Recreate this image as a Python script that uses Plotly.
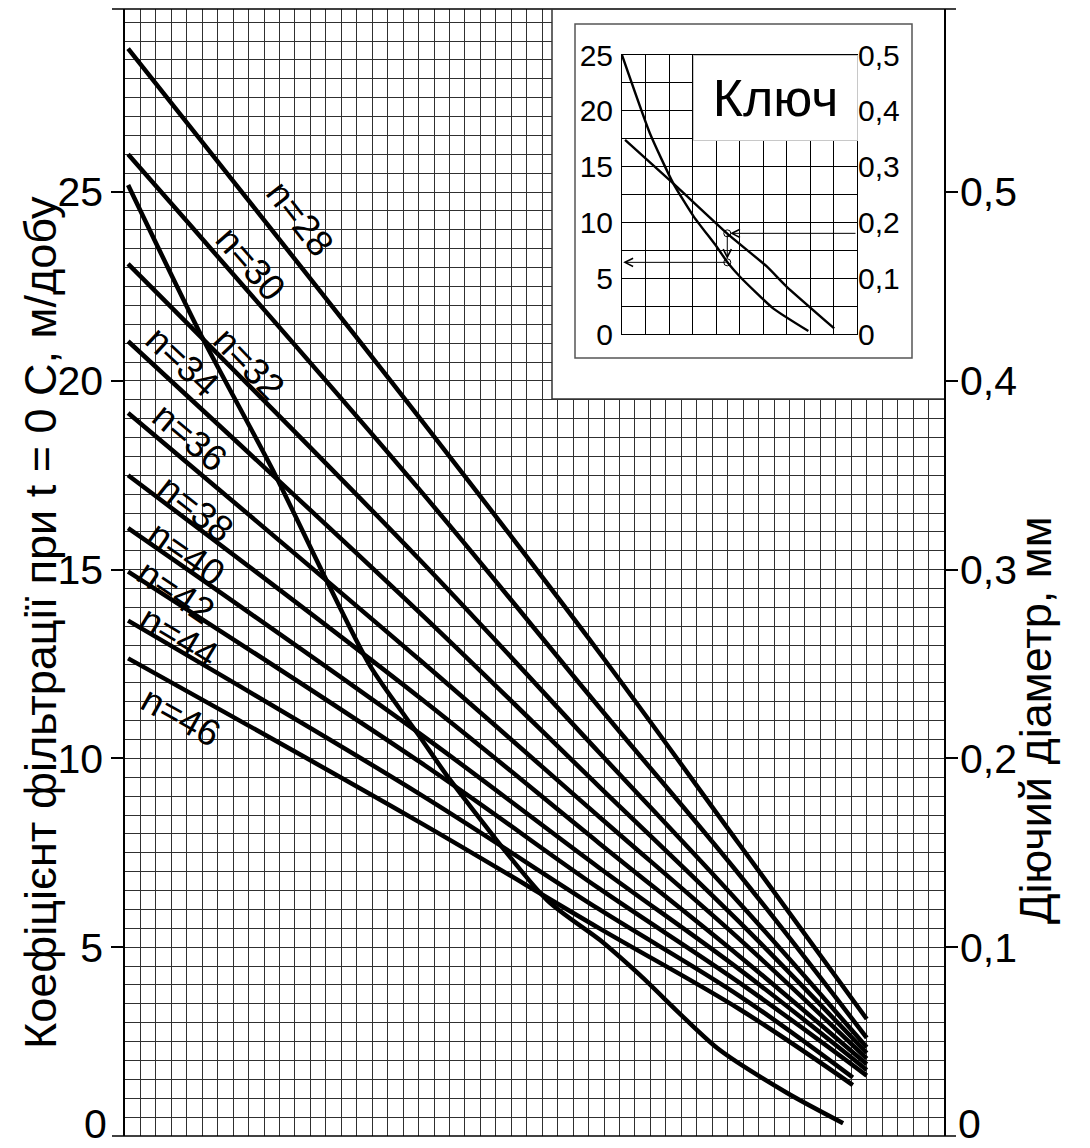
import plotly.graph_objects as go

# ---------------------------------------------------------------------------
# Nomogram: filtration coefficient K (m/day, left) vs effective diameter
# d (mm, right) for soils of different porosity n.
# ---------------------------------------------------------------------------

X_MAX = 53          # number of grid columns along the abscissa
K_MAX = 29.85       # top of the K scale, m/day
MM_PER_K = 1 / 50   # right scale (mm) is the left scale divided by 50

# tick values of both scales
k_ticks = [0, 5, 10, 15, 20, 25]
d_ticks = [0, 0.1, 0.2, 0.3, 0.4, 0.5]

# abscissa (grid columns) at which each porosity line was sampled
n_x_long = [0.2, 19.1, 30.7, 39.8, 48.0]
n_x_short = [0.2, 19.1, 30.7, 39.8, 47.1]

# effective diameter, mm, along each porosity line
n_labels = ["n=28", "n=30", "n=32", "n=34", "n=36",
            "n=38", "n=40", "n=42", "n=44", "n=46"]
d_n28 = [0.576, 0.380, 0.256, 0.154, 0.062]
d_n30 = [0.520, 0.342, 0.227, 0.138, 0.052]
d_n32 = [0.462, 0.305, 0.203, 0.123, 0.047]
d_n34 = [0.421, 0.277, 0.185, 0.113, 0.044]
d_n36 = [0.383, 0.252, 0.169, 0.104, 0.041]
d_n38 = [0.350, 0.232, 0.155, 0.095, 0.038]
d_n40 = [0.322, 0.213, 0.142, 0.088, 0.035]
d_n42 = [0.299, 0.198, 0.131, 0.081, 0.032]
d_n44 = [0.273, 0.181, 0.120, 0.074, 0.031]
d_n46 = [0.253, 0.166, 0.110, 0.067, 0.027]

# K-curve, m/day
curve_x = [0.2, 4.85, 9.7, 12.75, 15.86, 19.09, 21.04, 27.31,
           30.74, 33.33, 38.32, 42.85, 46.47]
curve_k = [25.19, 21.27, 17.53, 14.96, 12.45, 10.57, 9.43, 6.25,
           5.19, 4.26, 2.33, 1.14, 0.34]

# label anchors (column, K) and rotation of the porosity labels
label_x = [11.3, 8.1, 8.0, 3.7, 4.2, 4.53, 3.95, 3.24, 3.43, 3.56]
label_k = [24.29, 23.11, 20.45, 20.52, 18.5, 16.62, 15.44, 14.41, 13.22, 11.10]
label_angle = [52, 49, 46, 43, 40, 38, 35, 34, 31, 29]

# ---- key (inset) -----------------------------------------------------------
key_curve_x = [0.0, 1.19, 2.18, 3.06, 4.03, 4.52, 5.02, 6.43, 7.93]
key_curve_k = [25.0, 17.97, 13.5, 10.5, 7.82, 6.33, 5.13, 2.3, 0.27]
key_line_x = [0.13, 2.18, 4.48, 6.16, 7.0, 9.03]
key_line_d = [0.348, 0.270, 0.180, 0.121, 0.085, 0.010]
key_x_read = 4.48
key_d_read = 0.1804  # example diameter, mm
key_k_read = 6.42    # resulting K, m/day

FONT = "Liberation Sans, Arial, sans-serif"
GRID = "#303030"

# plot area in pixels inside the 1090 x 1148 page
W, H = 1090, 1148
L, R, T, B = 125, 944, 9, 1136
PW, PH = R - L, B - T


def px_x(p):
    return (p - L) / PW


def px_y(p):
    return (B - p) / PH


fig = go.Figure()

series = [d_n28, d_n30, d_n32, d_n34, d_n36, d_n38, d_n40, d_n42, d_n44, d_n46]
for i, d in enumerate(series):
    xs = n_x_short if i >= 8 else n_x_long
    fig.add_trace(go.Scatter(
        x=xs, y=d, mode="lines", yaxis="y2", name=n_labels[i],
        line=dict(color="black", width=4.5, shape="spline", smoothing=1.0),
        hoverinfo="skip"))

fig.add_trace(go.Scatter(
    x=curve_x, y=curve_k, mode="lines", name="K",
    line=dict(color="black", width=4.5, shape="spline", smoothing=0.7),
    hoverinfo="skip"))

# white panel holding the key (its own subplot so its background hides the grid)
fig.add_trace(go.Scatter(x=[None], y=[None], xaxis="x3", yaxis="y3",
                         hoverinfo="skip"))

fig.add_trace(go.Scatter(
    x=key_curve_x, y=key_curve_k, xaxis="x4", yaxis="y4", mode="lines",
    line=dict(color="black", width=2.4, shape="spline", smoothing=0.5),
    hoverinfo="skip"))
fig.add_trace(go.Scatter(
    x=key_line_x, y=key_line_d, xaxis="x4", yaxis="y5", mode="lines",
    line=dict(color="black", width=2.4, shape="spline", smoothing=0.4),
    hoverinfo="skip"))
fig.add_trace(go.Scatter(
    x=[key_x_read, key_x_read], y=[key_d_read / MM_PER_K, key_k_read],
    xaxis="x4", yaxis="y4", mode="markers",
    marker=dict(symbol="circle-open", size=7, color="black", line=dict(width=1)),
    hoverinfo="skip"))

annotations = []
for i, txt in enumerate(n_labels):
    annotations.append(dict(
        x=label_x[i], y=label_k[i], xref="x", yref="y", text=txt,
        showarrow=False, textangle=label_angle[i],
        font=dict(family=FONT, size=37, color="black"),
        xanchor="center", yanchor="middle"))

# reading arrows of the key
arrow = dict(showarrow=True, arrowhead=5, arrowsize=1.6, arrowwidth=1,
             arrowcolor="black", text="", xref="x4", yref="y4",
             axref="x4", ayref="y4", standoff=0, startstandoff=0)
annotations.append(dict(arrow, x=key_x_read + 0.12, y=key_d_read / MM_PER_K,
                        ax=10, ay=key_d_read / MM_PER_K))
annotations.append(dict(arrow, x=key_x_read, y=key_k_read + 0.3,
                        ax=key_x_read, ay=key_d_read / MM_PER_K))
annotations.append(dict(arrow, x=0.05, y=key_k_read,
                        ax=key_x_read, ay=key_k_read))

annotations.append(dict(
    x=px_x(775), y=px_y(97.5), xref="paper", yref="paper", text="Ключ",
    showarrow=False, width=163, height=84, bgcolor="white",
    bordercolor="#c8c8c8", borderwidth=1, borderpad=0,
    xanchor="center", yanchor="middle",
    font=dict(family=FONT, size=52, color="black")))

annotations.append(dict(
    x=px_x(40), y=px_y(623), xref="paper", yref="paper",
    text="Коефіцієнт фільтрації при t = 0 C, м/добу", textangle=-90,
    showarrow=False, xanchor="center", yanchor="middle",
    font=dict(family=FONT, size=45, color="black")))
annotations.append(dict(
    x=px_x(1036), y=px_y(720), xref="paper", yref="paper",
    text="Діючий діаметр, мм", textangle=-90,
    showarrow=False, xanchor="center", yanchor="middle",
    font=dict(family=FONT, size=45, color="black")))

tick_font = dict(family=FONT, size=41, color="black")
key_font = dict(family=FONT, size=30, color="black")

# the zero labels sit on the bottom frame line; keep them resting on the
# lower page edge so they are not clipped
annotations.append(dict(
    x=px_x(108), y=px_y(H), xref="paper", yref="paper", text=str(k_ticks[0]),
    showarrow=False, xanchor="right", yanchor="bottom", borderpad=0,
    font=tick_font))
annotations.append(dict(
    x=px_x(957), y=px_y(H), xref="paper", yref="paper", text=str(d_ticks[0]),
    showarrow=False, xanchor="left", yanchor="bottom", borderpad=0,
    font=tick_font))

shapes = [
    # top and bottom frame lines, running slightly past both axes
    dict(type="line", xref="paper", yref="paper", x0=px_x(112), x1=px_x(956),
         y0=1, y1=1, line=dict(color="black", width=1.5)),
    dict(type="line", xref="paper", yref="paper", x0=px_x(112), x1=px_x(956),
         y0=0, y1=0, line=dict(color="black", width=1.5)),
    # edges of the white key panel
    dict(type="line", xref="paper", yref="paper", x0=px_x(552), x1=px_x(552),
         y0=px_y(399), y1=1, line=dict(color="#333", width=1.5)),
    dict(type="line", xref="paper", yref="paper", x0=px_x(552), x1=1,
         y0=px_y(399), y1=px_y(399), line=dict(color="#333", width=1.5)),
    # framed box around the key
    dict(type="rect", xref="paper", yref="paper", x0=px_x(575), x1=px_x(912),
         y0=px_y(358), y1=px_y(24), line=dict(color="#555", width=1.5)),
]

fig.update_layout(
    template="none",
    width=W, height=H,
    margin=dict(l=L, r=W - R, t=T, b=H - B, autoexpand=False),
    paper_bgcolor="white", plot_bgcolor="white",
    separators=", ",
    showlegend=False,
    font=dict(family=FONT, color="black"),
    xaxis=dict(domain=[0, 1], range=[0, X_MAX], tick0=0, dtick=1,
               showgrid=True, gridcolor=GRID, gridwidth=1, automargin=False,
               showticklabels=False, ticks="", zeroline=False, showline=False),
    yaxis=dict(range=[0, K_MAX], tickmode="array", tickvals=k_ticks[1:],
               ticks="outside", ticklen=12,
               tickwidth=1.5, tickcolor="black", tickfont=tick_font,
               automargin=False,
               showgrid=True, gridcolor=GRID, gridwidth=1,
               minor=dict(tick0=0, dtick=0.5, showgrid=True, gridcolor=GRID,
                          gridwidth=1, ticks=""),
               zeroline=False, showline=True, linecolor="black", linewidth=1.5),
    yaxis2=dict(overlaying="y", side="right", range=[0, K_MAX * MM_PER_K],
                tickmode="array", tickvals=d_ticks[1:],
                ticks="outside", ticklen=12, tickwidth=1.5,
                tickcolor="black", tickfont=tick_font, showgrid=False,
                ticklabelstandoff=-6, automargin=False,
                zeroline=False, showline=True, linecolor="black", linewidth=1.5),
    xaxis3=dict(domain=[px_x(552), 1], anchor="y3", range=[0, 1], visible=False),
    yaxis3=dict(domain=[px_y(399), 1], anchor="x3", range=[0, 1], visible=False),
    xaxis4=dict(domain=[px_x(622), px_x(857)], anchor="y4", range=[0, 10],
                tick0=0, dtick=1, showgrid=True, gridcolor="black", gridwidth=1,
                showticklabels=False, ticks="", zeroline=False, automargin=False,
                showline=True, mirror=True, linecolor="black", linewidth=1),
    yaxis4=dict(domain=[px_y(334), px_y(55)], anchor="x4", range=[0, 25],
                tick0=0, dtick=5, ticks="", tickfont=key_font,
                ticklabelstandoff=2, automargin=False,
                showgrid=True, gridcolor="black", gridwidth=1,
                minor=dict(tick0=0, dtick=2.5, showgrid=True, gridcolor="black",
                           gridwidth=1, ticks=""),
                zeroline=False, showline=True, mirror=True,
                linecolor="black", linewidth=1),
    yaxis5=dict(overlaying="y4", side="right", anchor="x4", range=[0, 0.5],
                tick0=0, dtick=0.1, ticks="", tickfont=key_font,
                ticklabelstandoff=0, automargin=False,
                showgrid=False, zeroline=False, showline=False),
    annotations=annotations,
    shapes=shapes,
)

fig.write_html("out.html")
